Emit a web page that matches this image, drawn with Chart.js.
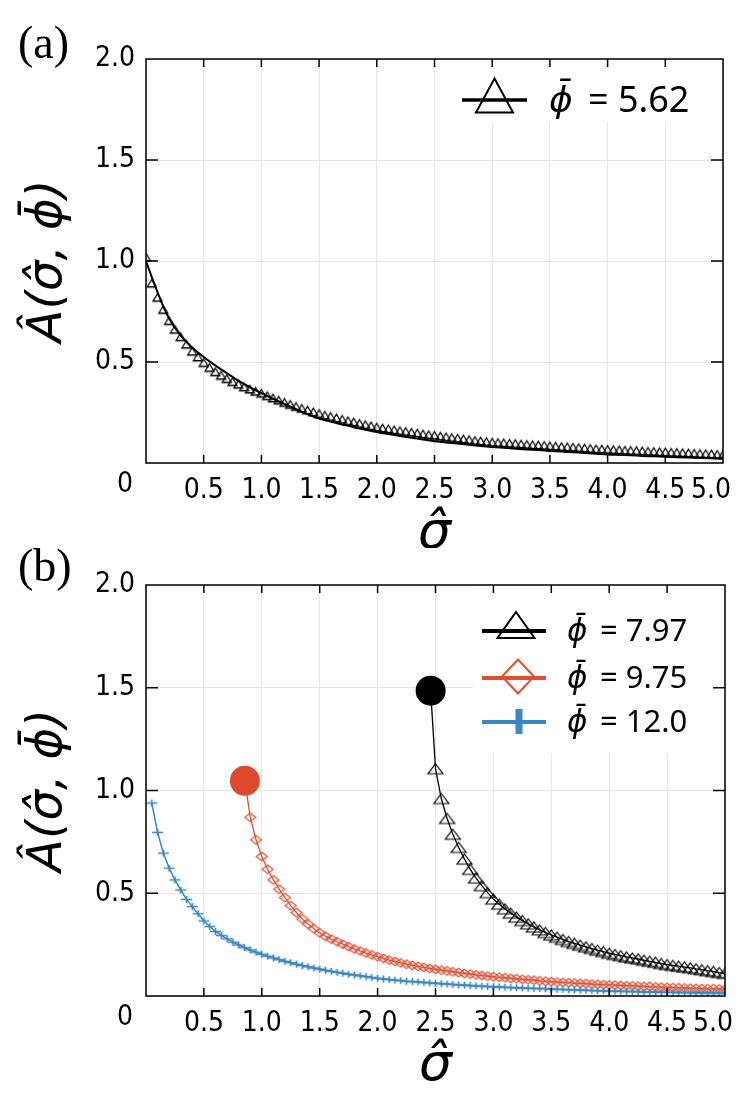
<!DOCTYPE html>
<html><head><meta charset="utf-8">
<script src="https://cdn.jsdelivr.net/npm/chart.js@4.4.1/dist/chart.umd.min.js"></script>
<style>html,body{margin:0;padding:0;background:#fff;}canvas{display:block;}</style>
</head><body>
<canvas id="chartA" width="740" height="548"></canvas>
<canvas id="chartB" width="740" height="548"></canvas>
<script>
// ---------------- DATA ----------------
const sigma = [
 0.00,0.05,0.10,0.15,0.20,0.25,0.30,0.35,0.40,0.45,
 0.50,0.55,0.60,0.65,0.70,0.75,0.80,0.85,0.90,0.95,
 1.00,1.05,1.10,1.15,1.20,1.25,1.30,1.35,1.40,1.45,
 1.50,1.55,1.60,1.65,1.70,1.75,1.80,1.85,1.90,1.95,
 2.00,2.05,2.10,2.15,2.20,2.25,2.30,2.35,2.40,2.45,
 2.50,2.55,2.60,2.65,2.70,2.75,2.80,2.85,2.90,2.95,
 3.00,3.05,3.10,3.15,3.20,3.25,3.30,3.35,3.40,3.45,
 3.50,3.55,3.60,3.65,3.70,3.75,3.80,3.85,3.90,3.95,
 4.00,4.05,4.10,4.15,4.20,4.25,4.30,4.35,4.40,4.45,
 4.50,4.55,4.60,4.65,4.70,4.75,4.80,4.85,4.90,4.95,
 5.00];

// panel (a): phi = 5.62, triangle markers
const trianglesA = [
 1.02,0.89,0.82,0.76,0.705,0.662,0.625,0.588,0.553,0.525,
 0.497,0.473,0.452,0.434,0.418,0.403,0.390,0.377,0.366,0.355,
 0.345,0.333,0.322,0.311,0.300,0.290,0.280,0.271,0.262,0.253,
 0.245,0.237,0.230,0.223,0.216,0.209,0.203,0.196,0.190,0.184,
 0.178,0.173,0.169,0.164,0.160,0.156,0.152,0.148,0.144,0.140,
 0.137,0.133,0.130,0.126,0.123,0.119,0.116,0.112,0.109,0.106,
 0.103,0.101,0.100,0.098,0.096,0.094,0.092,0.090,0.089,0.087,
 0.085,0.083,0.081,0.080,0.078,0.076,0.074,0.072,0.070,0.069,
 0.067,0.066,0.065,0.063,0.062,0.061,0.060,0.058,0.057,0.056,
 0.055,0.053,0.052,0.051,0.050,0.048,0.047,0.046,0.045,0.043,
 0.042];

// panel (a): solid curve
const sigmaLineA = [0,0.05,0.10,0.15,0.20,0.3,0.4,0.5,0.6,0.7,0.8,0.9,1.0,
 1.1,1.2,1.3,1.4,1.5,1.6,1.7,1.8,1.9,2.0,
 2.1,2.2,2.3,2.4,2.5,2.6,2.7,2.8,2.9,3.0,
 3.1,3.2,3.3,3.4,3.5,3.6,3.7,3.8,3.9,4.0,
 4.1,4.2,4.3,4.4,4.5,4.6,4.7,4.8,4.9,5.0];
const lineA = [1.0,0.92,0.845,0.775,0.715,0.632,0.572,0.525,0.483,0.445,0.408,0.375,0.346,
 0.318,0.292,0.266,0.242,0.220,0.205,0.191,0.177,0.165,0.153,
 0.143,0.134,0.125,0.116,0.108,0.102,0.096,0.090,0.084,0.079,
 0.075,0.071,0.067,0.064,0.060,0.057,0.053,0.050,0.046,0.042,
 0.040,0.038,0.035,0.033,0.031,0.029,0.027,0.025,0.023,0.021];

// panel (b): onset points (big dots) for phi = 7.97 and 9.75
const onsetSigma = [2.458, 0.854];
const onsetA     = [1.486, 1.047];

// panel (b): phi = 7.97, from sigma = 2.50
const startBlack = 2.50;
const blackB = [
 1.106,0.961,0.864,0.787,0.723,0.666,0.616,0.574,0.537,0.503,
 0.472,0.447,0.424,0.403,0.384,0.367,0.351,0.336,0.322,0.309,
 0.297,0.286,0.275,0.265,0.256,0.247,0.239,0.231,0.223,0.216,
 0.208,0.202,0.196,0.190,0.185,0.180,0.174,0.169,0.164,0.158,
 0.153,0.149,0.145,0.141,0.137,0.132,0.128,0.123,0.119,0.114,
 0.110];

// panel (b): phi = 9.75, from sigma = 0.90
const startRed = 0.90;
const redB = [
 0.870,0.760,
 0.679,0.617,0.565,0.520,0.479,0.440,0.406,0.375,0.350,0.327,
 0.307,0.291,0.277,0.264,0.252,0.240,0.229,0.219,0.209,0.200,
 0.191,0.183,0.175,0.168,0.161,0.155,0.149,0.144,0.139,0.134,
 0.130,0.126,0.122,0.118,0.114,0.110,0.107,0.103,0.100,0.097,
 0.094,0.091,0.089,0.086,0.084,0.081,0.079,0.077,0.074,0.072,
 0.070,0.068,0.066,0.065,0.063,0.061,0.060,0.058,0.057,0.055,
 0.054,0.053,0.051,0.050,0.049,0.048,0.047,0.046,0.044,0.043,
 0.042,0.041,0.040,0.039,0.038,0.037,0.036,0.035,0.035,0.034,
 0.033];

// panel (b): phi = 12.0, from sigma = 0.05
const startBlue = 0.05;
const blueB = [
 0.939,0.796,0.695,0.622,0.565,0.516,0.470,0.435,0.400,
 0.365,0.338,0.314,0.295,0.278,0.262,0.248,0.235,0.224,0.213,
 0.203,0.194,0.185,0.177,0.169,0.162,0.155,0.148,0.142,0.136,
 0.131,0.125,0.120,0.115,0.111,0.106,0.102,0.098,0.094,0.090,
 0.086,0.083,0.080,0.077,0.075,0.072,0.070,0.068,0.066,0.064,
 0.062,0.060,0.058,0.056,0.054,0.053,0.051,0.049,0.048,0.046,
 0.045,0.044,0.042,0.041,0.040,0.039,0.038,0.037,0.036,0.035,
 0.034,0.033,0.032,0.031,0.030,0.029,0.028,0.027,0.026,0.025,
 0.024,0.0235,0.023,0.022,0.0215,0.021,0.020,0.0195,0.019,0.0185,
 0.018,0.0175,0.017,0.0165,0.016,0.0155,0.015,0.0145,0.014,0.0135,
 0.013];

const xTickValues = [0,0.5,1.0,1.5,2.0,2.5,3.0,3.5,4.0,4.5,5.0];
const yTickValues = [0,0.5,1.0,1.5,2.0];
const legendLabels = ['\u03D5\u0304 = 5.62','\u03D5\u0304 = 7.97','\u03D5\u0304 = 9.75','\u03D5\u0304 = 12.0'];
const yTitle = '\u00C2(\u03C3\u0302, \u03D5\u0304)';
const xTitle = '\u03C3\u0302';

// ---------------- STYLE ----------------
const RED = '#df4f31', RED_DOT = '#dd4a2c', BLUE = '#3a87c3';
const TICK_FAMILY = "'Liberation Sans Narrow','DejaVu Sans Condensed','Arial Narrow',sans-serif";
const TICK_SIZE = 28;
const MATH_FAMILY = "'DejaVu Sans',sans-serif";

function shapePath(g, shape, cx, cy, w, h) {
  g.beginPath();
  if (shape === 'triangle') {
    g.moveTo(cx, cy - h/2); g.lineTo(cx + w/2, cy + h/2); g.lineTo(cx - w/2, cy + h/2); g.closePath();
  } else if (shape === 'diamond') {
    g.moveTo(cx, cy - h/2); g.lineTo(cx + w/2, cy); g.lineTo(cx, cy + h/2); g.lineTo(cx - w/2, cy); g.closePath();
  } else if (shape === 'plus') {
    g.moveTo(cx - w/2, cy); g.lineTo(cx + w/2, cy); g.moveTo(cx, cy - h/2); g.lineTo(cx, cy + h/2);
  }
}
function markerImage(shape, w, h, stroke, lw) {
  const pad = Math.ceil(lw) + 1;
  const c = document.createElement('canvas');
  c.width = Math.ceil(w) + 2*pad; c.height = Math.ceil(h) + 2*pad;
  const g = c.getContext('2d');
  g.strokeStyle = stroke; g.lineWidth = lw;
  shapePath(g, shape, c.width/2, c.height/2, w, h);
  g.stroke();
  return c;
}
const triA = markerImage('triangle', 9, 7.5, '#000', 1.3);
const triB = markerImage('triangle', 15, 10, '#000', 1.2);
const diaB = markerImage('diamond', 11, 8.5, RED, 1.2);
const plusB = markerImage('plus', 11, 7, BLUE, 1.6);

const pts = (xs, ys) => ys.map((v, i) => ({x: xs[i], y: v}));
const from = s0 => sigma.filter(s => s >= s0 - 1e-9);

// ---------------- PLUGIN: frame, inner ticks, corner 0, panel label, legend ----------------
const decor = {
  id: 'decor',
  beforeDatasetsDraw(chart, args, o) {
    const c = chart.ctx, b = o.box;
    c.save(); c.fillStyle = '#fff'; c.fillRect(b[0], b[1], b[2] - b[0], b[3] - b[1]); c.restore();
  },
  afterDraw(chart, args, o) {
    const c = chart.ctx, a = chart.chartArea, xs = chart.scales.x, ys = chart.scales.y;
    c.save();
    c.strokeStyle = '#000'; c.lineWidth = 1.5;
    c.strokeRect(a.left, a.top, a.right - a.left, a.bottom - a.top);
    c.beginPath();
    xs.ticks.forEach(t => {
      if (t.value <= xs.min || t.value >= xs.max) return;
      const p = xs.getPixelForValue(t.value);
      c.moveTo(p, a.bottom); c.lineTo(p, a.bottom - 8);
      c.moveTo(p, a.top); c.lineTo(p, a.top + 8);
    });
    ys.ticks.forEach(t => {
      if (t.value <= ys.min || t.value >= ys.max) return;
      const p = ys.getPixelForValue(t.value);
      c.moveTo(a.left, p); c.lineTo(a.left + 12, p);
      c.moveTo(a.right, p); c.lineTo(a.right - 12, p);
    });
    c.stroke();
    c.fillStyle = '#000';
    c.font = TICK_SIZE + 'px ' + TICK_FAMILY; c.textAlign = 'center'; c.textBaseline = 'middle';
    c.fillText('0', a.left - 21, a.bottom + 22);
    c.font = "46px 'Liberation Serif','DejaVu Serif',serif"; c.textAlign = 'left';
    c.fillText(o.panel, 18, o.panelY);
    chart.data.datasets.forEach(ds => {
      const L = ds.legend; if (!L) return;
      c.strokeStyle = L.color; c.lineWidth = L.lineWidth;
      c.beginPath(); c.moveTo(L.x1, L.y); c.lineTo(L.x2, L.y); c.stroke();
      const m = L.marker;
      c.strokeStyle = m.color; c.lineWidth = m.lw;
      shapePath(c, m.shape, m.cx, m.cy, m.w, m.h); c.stroke();
      const parts = ds.label.split(' ');
      c.fillStyle = '#000'; c.textAlign = 'left'; c.textBaseline = 'alphabetic';
      c.font = 'italic ' + L.size + 'px ' + MATH_FAMILY;
      c.fillText(parts[0], L.tx, L.ty);
      c.font = L.size + "px 'Noto Sans',sans-serif";
      c.fillText(parts.slice(1).join(' '), L.ex, L.ty);
    });
    c.restore();
  }
};

function scalesConfig(xAxisHeight, xTitlePad) {
  const tickFont = {family: TICK_FAMILY, size: TICK_SIZE};
  const xTitleFont = {family: MATH_FAMILY, size: 52, style: 'italic', lineHeight: 0.5};
  const yTitleFont = {family: MATH_FAMILY, size: 48, style: 'italic', lineHeight: 0.5};
  const fmt = v => v === 0 ? '' : (v === 5 ? '5.0   ' : Number(v).toFixed(1));
  return {
    x: {
      type: 'linear', min: 0, max: 5,
      afterBuildTicks: s => { s.ticks = xTickValues.map(v => ({value: v})); },
      afterFit: s => { s.height = xAxisHeight; s.paddingLeft = 0; s.paddingRight = 0; },
      ticks: {callback: fmt, color: '#000', font: tickFont, padding: 11, maxRotation: 0, autoSkip: false},
      grid: {color: '#e6e6e6', lineWidth: 1, drawTicks: false},
      border: {display: false},
      title: {display: true, text: xTitle, color: '#000', font: xTitleFont, padding: {top: 0, bottom: xTitlePad}}
    },
    y: {
      type: 'linear', min: 0, max: 2,
      afterBuildTicks: s => { s.ticks = yTickValues.map(v => ({value: v})); },
      afterFit: s => { s.width = 146; s.paddingTop = 0; s.paddingBottom = 0; },
      ticks: {callback: v => v === 0 ? '' : Number(v).toFixed(1), color: '#000', font: tickFont, padding: 11, autoSkip: false},
      grid: {color: '#e6e6e6', lineWidth: 1, drawTicks: false},
      border: {display: false},
      title: {display: true, text: yTitle, color: '#000', font: yTitleFont, padding: {top: 37, bottom: 0}}
    }
  };
}

const common = {
  responsive: false, animation: false, events: [],
  plugins: {legend: {display: false}, tooltip: {enabled: false}}
};

// ---------------- PANEL (a) ----------------
new Chart(document.getElementById('chartA'), {
  type: 'line',
  data: {datasets: [
    {label: legendLabels[0], data: pts(sigma, trianglesA), showLine: false,
     pointStyle: triA, pointRadius: 5, order: 0,
     legend: {color: '#000', lineWidth: 3.5, x1: 462, x2: 527, y: 100,
              marker: {shape: 'triangle', cx: 494.5, cy: 95.5, w: 37, h: 34, color: '#000', lw: 2},
              size: 36, tx: 549, ex: 588, ty: 112}},
    {label: '', data: pts(sigmaLineA, lineA), borderColor: '#000', borderWidth: 2,
     pointRadius: 0, cubicInterpolationMode: 'monotone', order: 1}
  ]},
  options: Object.assign({}, common, {
    layout: {padding: {top: 59, right: 17, left: 0, bottom: 0}},
    scales: scalesConfig(85, 1),
    plugins: Object.assign({}, common.plugins, {decor: {panel: '(a)', panelY: 46, box: [440, 59, 723, 122]}})
  }),
  plugins: [decor]
});

// ---------------- PANEL (b) ----------------
const isOnset = c => c.index === 0;
new Chart(document.getElementById('chartB'), {
  type: 'line',
  data: {datasets: [
    {label: legendLabels[1],
     data: [{x: onsetSigma[0], y: onsetA[0]}].concat(pts(from(startBlack), blackB)),
     borderColor: '#000', borderWidth: 1.3, order: 2,
     pointStyle: c => isOnset(c) ? 'circle' : triB,
     pointRadius: c => isOnset(c) ? 15 : 5,
     pointBackgroundColor: '#000', pointBorderWidth: 0,
     legend: {color: '#000', lineWidth: 4, x1: 482, x2: 546, y: 83,
              marker: {shape: 'triangle', cx: 516, cy: 77, w: 37, h: 26, color: '#000', lw: 2},
              size: 31, tx: 567, ex: 600, ty: 93}},
    {label: legendLabels[2],
     data: [{x: onsetSigma[1], y: onsetA[1]}].concat(pts(from(startRed), redB)),
     borderColor: RED, borderWidth: 1.3, order: 1,
     pointStyle: c => isOnset(c) ? 'circle' : diaB,
     pointRadius: c => isOnset(c) ? 15 : 5,
     pointBackgroundColor: RED_DOT, pointBorderWidth: 0,
     legend: {color: RED, lineWidth: 4, x1: 482, x2: 546, y: 130,
              marker: {shape: 'diamond', cx: 518, cy: 128.5, w: 32, h: 34, color: RED, lw: 2},
              size: 31, tx: 567, ex: 600, ty: 140}},
    {label: legendLabels[3],
     data: pts(from(startBlue), blueB),
     borderColor: BLUE, borderWidth: 1.5, order: 0,
     pointStyle: plusB, pointRadius: 5,
     legend: {color: BLUE, lineWidth: 4, x1: 482, x2: 546, y: 174,
              marker: {shape: 'plus', cx: 519, cy: 173.5, w: 0, h: 25, color: BLUE, lw: 7},
              size: 31, tx: 567, ex: 600, ty: 184}}
  ]},
  options: Object.assign({}, common, {
    layout: {padding: {top: 37, right: 15, left: 0, bottom: 0}},
    scales: scalesConfig(100, 17),
    plugins: Object.assign({}, common.plugins, {decor: {panel: '(b)', panelY: 21, box: [473, 37, 725, 205]}})
  }),
  plugins: [decor]
});
</script>
</body></html>
